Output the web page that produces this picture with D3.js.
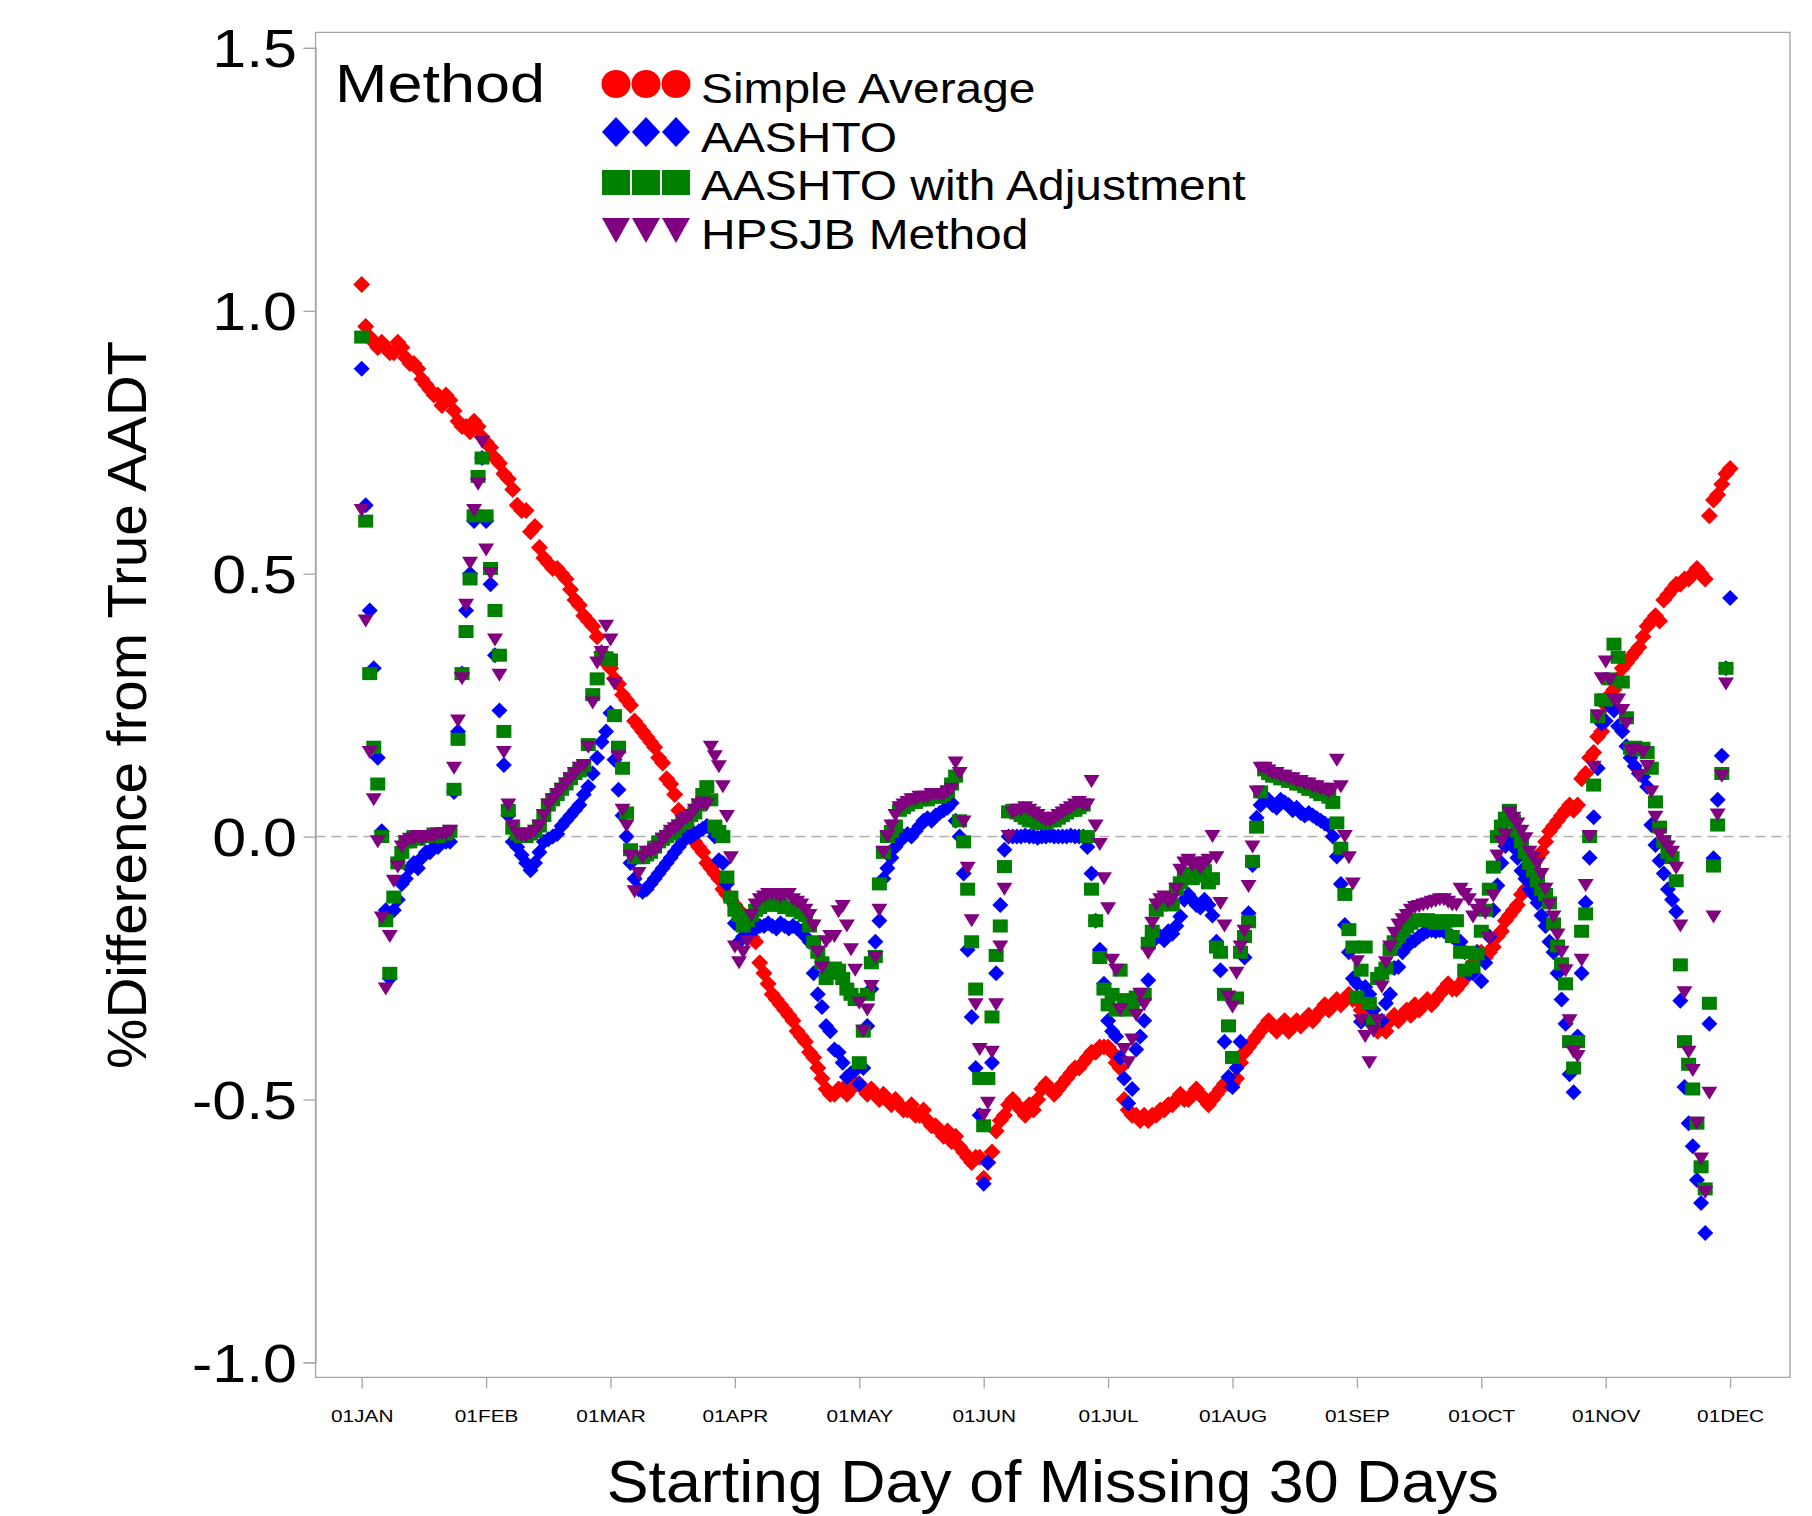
<!DOCTYPE html>
<html>
<head>
<meta charset="utf-8">
<script src="https://d3js.org/d3.v7.min.js"></script>
<style>
  body { margin: 0; background: #ffffff; }
  text { font-family: "Liberation Sans", Arial, sans-serif; fill: #000; }
</style>
</head>
<body>
<div id="chart"></div>
<script>
// x axis: day of year (0 = 01JAN), ticks at the first of each month
var monthStartDays = [0, 31, 59, 90, 120, 151, 181, 212, 243, 273, 304, 334];
var monthLabels = ["01JAN", "01FEB", "01MAR", "01APR", "01MAY", "01JUN",
                   "01JUL", "01AUG", "01SEP", "01OCT", "01NOV", "01DEC"];
var yTicks = [-1.0, -0.5, 0.0, 0.5, 1.0, 1.5];

var methodNames = ["Simple Average", "AASHTO", "AASHTO with Adjustment", "HPSJB Method"];

// %Difference from True AADT, one value per starting day
var simpleAverage = [
  1.05, 0.97, 0.95, 0.94, 0.93, 0.94, 0.93, 0.92, 0.92, 0.94,
  0.93, 0.91, 0.90, 0.90, 0.89, 0.87, 0.86, 0.85, 0.84, 0.84,
  0.82, 0.84, 0.83, 0.81, 0.79, 0.78, 0.78, 0.77, 0.79, 0.78,
  0.76, 0.75, 0.74, 0.72, 0.71, 0.69, 0.68, 0.66, 0.63, 0.62,
  0.62, 0.58, 0.59, 0.55, 0.53, 0.52, 0.51, 0.51, 0.50, 0.49,
  0.47, 0.45, 0.44, 0.42, 0.41, 0.40, 0.38, 0.35, 0.33, 0.32,
  0.30, 0.29, 0.27, 0.26, 0.25, 0.22, 0.21, 0.20, 0.19, 0.18,
  0.17, 0.15, 0.14, 0.11, 0.10, 0.08, 0.05, 0.04, 0.02, 0.00,
  -0.01, -0.02, -0.03, -0.05, -0.06, -0.07, -0.08, -0.10, -0.11, -0.12,
  -0.13, -0.14, -0.15, -0.17, -0.19, -0.20, -0.24, -0.26, -0.28, -0.30,
  -0.31, -0.32, -0.33, -0.34, -0.35, -0.37, -0.38, -0.39, -0.41, -0.42,
  -0.44, -0.46, -0.48, -0.49, -0.49, -0.48, -0.48, -0.49, -0.48, -0.47,
  -0.47, -0.48, -0.49, -0.48, -0.49, -0.50, -0.49, -0.50, -0.51, -0.50,
  -0.51, -0.52, -0.52, -0.51, -0.53, -0.53, -0.52, -0.54, -0.55, -0.55,
  -0.56, -0.57, -0.56, -0.58, -0.57, -0.59, -0.60, -0.61, -0.62, -0.61,
  -0.61, -0.65, -0.62, -0.60, -0.56, -0.54, -0.53, -0.51, -0.50, -0.51,
  -0.52, -0.53, -0.51, -0.52, -0.50, -0.48, -0.47, -0.48, -0.49, -0.48,
  -0.47, -0.46, -0.45, -0.44, -0.44, -0.43, -0.42, -0.41, -0.41, -0.40,
  -0.40, -0.40, -0.41, -0.43, -0.44, -0.50, -0.52, -0.53, -0.53, -0.54,
  -0.53, -0.54, -0.53, -0.53, -0.52, -0.52, -0.51, -0.51, -0.50, -0.49,
  -0.50, -0.50, -0.49, -0.48, -0.49, -0.50, -0.51, -0.50, -0.49, -0.48,
  -0.47, -0.47, -0.47, -0.46, -0.43, -0.41, -0.40, -0.39, -0.38, -0.37,
  -0.36, -0.35, -0.36, -0.37, -0.36, -0.35, -0.37, -0.36, -0.35, -0.36,
  -0.35, -0.34, -0.35, -0.34, -0.33, -0.32, -0.33, -0.32, -0.31, -0.32,
  -0.31, -0.30, -0.31, -0.31, -0.33, -0.34, -0.35, -0.36, -0.37, -0.36,
  -0.37, -0.35, -0.34, -0.35, -0.34, -0.33, -0.34, -0.32, -0.33, -0.32,
  -0.31, -0.32, -0.31, -0.30, -0.29, -0.28, -0.29, -0.29, -0.28, -0.27,
  -0.26, -0.24, -0.22, -0.22, -0.23, -0.22, -0.21, -0.19, -0.18, -0.16,
  -0.15, -0.14, -0.13, -0.11, -0.10, -0.08, -0.06, -0.04, -0.03, -0.01,
  0.01, 0.02, 0.03, 0.04, 0.05, 0.06, 0.05, 0.06, 0.11, 0.12,
  0.15, 0.16, 0.19, 0.20, 0.25, 0.27, 0.28, 0.30, 0.32, 0.33,
  0.34, 0.35, 0.36, 0.38, 0.40, 0.41, 0.42, 0.41, 0.45, 0.46,
  0.47, 0.48, 0.48, 0.49, 0.49, 0.50, 0.51, 0.50, 0.49, 0.61,
  0.64, 0.65, 0.67, 0.69, 0.70
];

var aashto = [
  0.89, 0.63, 0.43, 0.32, 0.15, 0.01, -0.14, -0.27, -0.14, -0.12,
  -0.09, -0.08, -0.06, -0.05, -0.06, -0.04, -0.03, -0.03, -0.02, -0.02,
  -0.01, -0.01, -0.01, 0.085, 0.20, 0.31, 0.43, 0.50, 0.60, 0.68,
  0.72, 0.60, 0.48, 0.345, 0.24, 0.136, 0.04, -0.01, -0.02, -0.035,
  -0.05, -0.064, -0.05, -0.03, -0.01, -0.005, 0.0, 0.005, 0.02, 0.03,
  0.04, 0.05, 0.06, 0.08, 0.095, 0.12, 0.15, 0.18, 0.20, 0.235,
  0.146, 0.089, 0.04, 0.0, -0.05, -0.08, -0.10, -0.105, -0.10, -0.09,
  -0.08, -0.07, -0.06, -0.05, -0.04, -0.03, -0.02, -0.01, 0.0, 0.0,
  0.005, 0.01, 0.015, 0.02, 0.015, 0.0, -0.045, -0.05, -0.09, -0.12,
  -0.165, -0.2, -0.19, -0.185, -0.18, -0.175, -0.17, -0.17, -0.165, -0.17,
  -0.175, -0.165, -0.17, -0.175, -0.17, -0.175, -0.18, -0.19, -0.2, -0.26,
  -0.3, -0.324, -0.36, -0.37, -0.405, -0.41, -0.43, -0.457, -0.45, -0.445,
  -0.47, -0.44, -0.36, -0.29, -0.2, -0.16, -0.08, -0.06, -0.04, -0.02,
  -0.01, 0.0, 0.005, 0.0, 0.01, 0.02, 0.03, 0.035, 0.03, 0.04,
  0.045, 0.05, 0.055, 0.064, 0.03, 0.0, -0.07, -0.215, -0.343, -0.44,
  -0.53, -0.66, -0.62, -0.43, -0.26, -0.13, -0.025, 0.0, 0.0, 0.0,
  0.0, 0.002, 0.0, 0.0, -0.002, 0.0, 0.0, 0.002, 0.0, 0.0,
  0.0, 0.0, 0.002, 0.0, 0.0, 0.0, -0.02, -0.07, -0.16, -0.215,
  -0.28, -0.35, -0.37, -0.38, -0.42, -0.46, -0.507, -0.48, -0.405, -0.38,
  -0.35, -0.273, -0.2, -0.185, -0.19, -0.197, -0.18, -0.185, -0.17, -0.152,
  -0.12, -0.11, -0.12, -0.13, -0.135, -0.12, -0.13, -0.15, -0.2, -0.254,
  -0.39, -0.457, -0.476, -0.44, -0.39, -0.23, -0.146, -0.054, 0.036, 0.06,
  0.075, 0.07, 0.06, 0.055, 0.07, 0.065, 0.06, 0.05, 0.055, 0.045,
  0.04, 0.045, 0.04, 0.035, 0.03, 0.025, 0.02, 0.0, -0.038, -0.09,
  -0.168, -0.22, -0.27, -0.28, -0.352, -0.286, -0.3, -0.33, -0.35, -0.35,
  -0.317, -0.3, -0.25, -0.248, -0.22, -0.21, -0.2, -0.197, -0.19, -0.185,
  -0.18, -0.178, -0.18, -0.178, -0.18, -0.185, -0.19, -0.197, -0.2, -0.22,
  -0.26, -0.26, -0.22, -0.275, -0.24, -0.19, -0.14, -0.093, -0.05, -0.018,
  0.0, -0.02, -0.04, -0.065, -0.08, -0.1, -0.11, -0.126, -0.15, -0.17,
  -0.2, -0.22, -0.26, -0.31, -0.356, -0.452, -0.486, -0.38, -0.26, -0.126,
  -0.04, 0.037, 0.13, 0.215, 0.22, 0.25, 0.24, 0.21, 0.2, 0.172,
  0.15, 0.134, 0.12, 0.114, 0.095, 0.022, -0.016, -0.046, -0.07, -0.1,
  -0.12, -0.143, -0.312, -0.476, -0.545, -0.589, -0.653, -0.697, -0.754, -0.356,
  -0.041, 0.07, 0.154, 0.32, 0.454
];

var aashtoAdj = [
  0.95, 0.60, 0.31, 0.17, 0.10, 0.0, -0.16, -0.26, -0.115, -0.05,
  -0.03, -0.01, -0.01, 0.0, -0.005, 0.0, 0.0, 0.0, 0.005, 0.0,
  0.005, 0.005, 0.01, 0.09, 0.185, 0.31, 0.39, 0.49, 0.61, 0.685,
  0.72, 0.61, 0.51, 0.43, 0.345, 0.20, 0.05, 0.016, 0.005, 0.0,
  0.0, 0.005, 0.01, 0.02, 0.04, 0.06, 0.07, 0.08, 0.09, 0.10,
  0.11, 0.12, 0.125, 0.135, 0.175, 0.27, 0.30, 0.34, 0.34, 0.336,
  0.23, 0.17, 0.13, 0.045, -0.025, -0.04, -0.04, -0.04, -0.035, -0.03,
  -0.02, -0.01, -0.005, 0.0, 0.005, 0.01, 0.02, 0.025, 0.03, 0.04,
  0.045, 0.06, 0.08, 0.095, 0.07, 0.02, 0.01, 0.0, -0.077, -0.115,
  -0.14, -0.15, -0.17, -0.16, -0.15, -0.14, -0.135, -0.13, -0.13, -0.13,
  -0.13, -0.13, -0.135, -0.135, -0.14, -0.14, -0.145, -0.15, -0.17, -0.2,
  -0.22, -0.24, -0.27, -0.26, -0.25, -0.254, -0.27, -0.29, -0.3, -0.31,
  -0.43, -0.37, -0.3, -0.24, -0.228, -0.09, -0.03, 0.0, 0.01, 0.02,
  0.05, 0.055, 0.06, 0.065, 0.065, 0.07, 0.07, 0.07, 0.075, 0.075,
  0.075, 0.08, 0.085, 0.1, 0.115, 0.03, -0.01, -0.1, -0.2, -0.29,
  -0.46, -0.55, -0.46, -0.343, -0.226, -0.17, -0.057, 0.047, 0.05, 0.045,
  0.04, 0.035, 0.03, 0.03, 0.025, 0.025, 0.025, 0.03, 0.03, 0.035,
  0.04, 0.045, 0.05, 0.05, 0.055, 0.06, 0.0, -0.1, -0.16, -0.23,
  -0.29, -0.32, -0.3, -0.33, -0.254, -0.31, -0.33, -0.32, -0.305, -0.31,
  -0.3, -0.203, -0.18, -0.14, -0.13, -0.125, -0.12, -0.13, -0.1, -0.088,
  -0.075, -0.07, -0.08, -0.07, -0.075, -0.065, -0.088, -0.08, -0.21, -0.22,
  -0.3, -0.36, -0.42, -0.307, -0.22, -0.19, -0.162, -0.047, 0.018, 0.085,
  0.127, 0.12, 0.115, 0.115, 0.11, 0.11, 0.105, 0.105, 0.1, 0.1,
  0.095, 0.09, 0.09, 0.085, 0.08, 0.08, 0.075, 0.065, 0.026, -0.022,
  -0.11, -0.177, -0.21, -0.305, -0.254, -0.21, -0.317, -0.35, -0.27, -0.26,
  -0.25, -0.215, -0.2, -0.19, -0.18, -0.172, -0.165, -0.16, -0.158, -0.16,
  -0.158, -0.16, -0.165, -0.16, -0.165, -0.16, -0.19, -0.16, -0.22, -0.254,
  -0.22, -0.248, -0.223, -0.18, -0.14, -0.1, -0.058, 0.0, 0.02, 0.035,
  0.05, 0.03, 0.01, -0.01, -0.03, -0.05, -0.065, -0.084, -0.1, -0.11,
  -0.126, -0.166, -0.208, -0.242, -0.28, -0.39, -0.44, -0.39, -0.18, -0.147,
  0.0, 0.098, 0.228, 0.26, 0.26, 0.3, 0.366, 0.341, 0.294, 0.226,
  0.168, 0.17, 0.165, 0.168, 0.16, 0.13, 0.066, 0.018, -0.01, -0.03,
  -0.04, -0.084, -0.244, -0.39, -0.433, -0.48, -0.545, -0.628, -0.67, -0.317,
  -0.056, 0.022, 0.12, 0.32
];

var hpsjb = [
  0.62, 0.41, 0.16, 0.07, -0.01, -0.155, -0.29, -0.19, -0.085, -0.058,
  -0.02, -0.01, -0.005, -0.005, 0.0, -0.005, 0.0, 0.0, 0.0, 0.005,
  0.005, 0.005, 0.01, 0.13, 0.22, 0.30, 0.44, 0.52, 0.62, 0.67,
  0.75, 0.545, 0.50, 0.374, 0.307, 0.16, 0.06, 0.02, 0.005, 0.0,
  0.0, 0.005, 0.01, 0.02, 0.04, 0.06, 0.07, 0.08, 0.09, 0.10,
  0.11, 0.12, 0.13, 0.135, 0.17, 0.254, 0.33, 0.35, 0.40, 0.374,
  0.29, 0.152, 0.05, 0.02, -0.038, -0.105, -0.07, -0.04, -0.03, -0.03,
  -0.025, -0.02, -0.005, 0.0, 0.01, 0.015, 0.02, 0.03, 0.035, 0.04,
  0.05, 0.06, 0.064, 0.06, 0.17, 0.152, 0.133, 0.095, 0.038, -0.04,
  -0.21, -0.24, -0.22, -0.2, -0.15, -0.13, -0.12, -0.115, -0.11, -0.11,
  -0.11, -0.115, -0.11, -0.11, -0.12, -0.125, -0.13, -0.14, -0.15, -0.17,
  -0.22, -0.25, -0.2, -0.19, -0.19, -0.143, -0.133, -0.17, -0.215, -0.254,
  -0.317, -0.37, -0.33, -0.285, -0.23, -0.14, -0.03, 0.0, 0.02, 0.04,
  0.055, 0.06, 0.065, 0.07, 0.07, 0.075, 0.075, 0.075, 0.08, 0.08,
  0.08, 0.08, 0.085, 0.09, 0.14, 0.12, 0.028, -0.06, -0.16, -0.32,
  -0.405, -0.53, -0.507, -0.41, -0.32, -0.21, -0.1, 0.0, 0.045, 0.05,
  0.05, 0.055, 0.05, 0.045, 0.04, 0.035, 0.03, 0.03, 0.035, 0.04,
  0.045, 0.05, 0.055, 0.06, 0.065, 0.06, 0.06, 0.105, 0.02, -0.015,
  -0.08, -0.137, -0.235, -0.254, -0.33, -0.405, -0.43, -0.387, -0.34, -0.3,
  -0.32, -0.222, -0.165, -0.13, -0.12, -0.115, -0.125, -0.12, -0.1, -0.064,
  -0.05, -0.045, -0.055, -0.05, -0.06, -0.05, -0.045, 0.0, -0.04, -0.127,
  -0.17, -0.305, -0.324, -0.26, -0.21, -0.18, -0.095, -0.02, 0.085, 0.13,
  0.13, 0.125, 0.12, 0.12, 0.115, 0.115, 0.11, 0.11, 0.105, 0.105,
  0.1, 0.1, 0.095, 0.095, 0.09, 0.09, 0.085, 0.09, 0.145, 0.095,
  0.0, -0.04, -0.09, -0.238, -0.35, -0.38, -0.43, -0.37, -0.35, -0.286,
  -0.24, -0.21, -0.184, -0.168, -0.158, -0.15, -0.14, -0.135, -0.133, -0.13,
  -0.128, -0.125, -0.123, -0.12, -0.12, -0.125, -0.13, -0.13, -0.1, -0.11,
  -0.12, -0.153, -0.14, -0.13, -0.146, -0.194, -0.113, -0.037, -0.01, 0.003,
  0.045, 0.035, 0.024, 0.01, -0.004, -0.03, -0.04, -0.052, -0.072, -0.1,
  -0.13, -0.153, -0.187, -0.22, -0.255, -0.35, -0.41, -0.418, -0.235, -0.093,
  0.0, 0.132, 0.23, 0.30, 0.332, 0.298, 0.26, 0.26, 0.24, 0.215,
  0.163, 0.165, 0.115, 0.16, 0.134, 0.085, 0.037, 0.003, -0.01, -0.02,
  -0.03, -0.06, -0.17, -0.297, -0.41, -0.445, -0.545, -0.613, -0.677, -0.488,
  -0.153, 0.041, 0.115, 0.29
];

// SVG area and plot frame
var svgWidth = 1812;
var svgHeight = 1516;
var frame = { left: 315.5, right: 1790, top: 32.4, bottom: 1377.4 };
var textStretch = 1.15;   // the reference lettering is a bit wider than Arial
var axisGrey = "#a4a4a4";

var svg = d3.select("#chart")
  .append("svg")
  .attr("width", svgWidth)
  .attr("height", svgHeight);

// month ticks are evenly spaced in the reference, so map day -> x piecewise
var xScale = d3.scaleLinear()
  .domain(monthStartDays)
  .range(monthStartDays.map(function(d, i) { return 361.7 + i * 124.4; }));
var yScale = d3.scaleLinear().domain([-1, 1.5]).range([1362.4, 47.9]);

function stretch(sel, k) {
  sel.each(function() {
    var w = this.getComputedTextLength();
    d3.select(this).attr("textLength", w * k).attr("lengthAdjust", "spacingAndGlyphs");
  });
}

// frame
svg.append("rect")
  .attr("x", frame.left)
  .attr("y", frame.top)
  .attr("width", frame.right - frame.left)
  .attr("height", frame.bottom - frame.top)
  .attr("fill", "none")
  .attr("stroke", axisGrey)
  .attr("stroke-width", 1.3);

// zero reference line
svg.append("line")
  .attr("x1", frame.left)
  .attr("x2", frame.right)
  .attr("y1", yScale(0))
  .attr("y2", yScale(0))
  .attr("stroke", "#b0b0b0")
  .attr("stroke-width", 1.5)
  .attr("stroke-dasharray", "10,6");

// y axis
var leftAxis = d3.axisLeft(yScale)
  .tickValues(yTicks)
  .tickSize(12)
  .tickPadding(6.5)
  .tickFormat(function(d) { return d.toFixed(1); });

var yAxis = svg.append("g")
  .attr("transform", "translate(" + frame.left + ",0)")
  .call(leftAxis);
yAxis.select(".domain").attr("stroke", axisGrey).attr("stroke-width", 1.3);
yAxis.selectAll(".tick line").attr("stroke", axisGrey).attr("stroke-width", 1.3);
yAxis.selectAll(".tick text")
  .attr("font-family", "Liberation Sans, Arial, sans-serif")
  .style("font-size", "53px")
  .attr("dy", "0.36em")
  .call(stretch, textStretch);

// x axis
var bottomAxis = d3.axisBottom(xScale)
  .tickValues(monthStartDays)
  .tickSize(11)
  .tickPadding(22)
  .tickFormat(function(d, i) { return monthLabels[i]; });

var xAxis = svg.append("g")
  .attr("transform", "translate(0," + frame.bottom + ")")
  .call(bottomAxis);
xAxis.select(".domain").remove();
xAxis.selectAll(".tick line").attr("stroke", axisGrey).attr("stroke-width", 1.3);
xAxis.selectAll(".tick text")
  .attr("font-family", "Liberation Sans, Arial, sans-serif")
  .style("font-size", "16px")
  .call(stretch, 1.3);

// axis titles
svg.append("text")
  .attr("transform", "translate(146," + ((frame.top + frame.bottom) / 2) + ") rotate(-90)")
  .attr("text-anchor", "middle")
  .style("font-size", "55px")
  .attr("textLength", 728)
  .attr("lengthAdjust", "spacingAndGlyphs")
  .text("%Difference from True AADT");

svg.append("text")
  .attr("x", (frame.left + frame.right) / 2)
  .attr("y", 1502)
  .attr("text-anchor", "middle")
  .style("font-size", "60px")
  .attr("textLength", 892)
  .attr("lengthAdjust", "spacingAndGlyphs")
  .text("Starting Day of Missing 30 Days");

// markers
var diamondRed = "M0,-8.5L8.5,0L0,8.5L-8.5,0Z";
var diamondBlue = "M0,-8L8,0L0,8L-8,0Z";
var triangleDown = "M-8,-6.5L8,-6.5L0,6.5Z";

function points(values) {
  return values.map(function(v, i) { return { day: i, value: v }; })
    .filter(function(d) { return d.value !== null; });
}

var plot = svg.append("g");

plot.append("g").selectAll("path")
  .data(points(simpleAverage))
  .enter()
  .append("path")
  .attr("d", diamondRed)
  .attr("fill", "#ff0000")
  .attr("transform", function(d) { return "translate(" + xScale(d.day) + "," + yScale(d.value) + ")"; });

plot.append("g").selectAll("path")
  .data(points(aashto))
  .enter()
  .append("path")
  .attr("d", diamondBlue)
  .attr("fill", "#0000ff")
  .attr("transform", function(d) { return "translate(" + xScale(d.day) + "," + yScale(d.value) + ")"; });

plot.append("g").selectAll("rect")
  .data(points(aashtoAdj))
  .enter()
  .append("rect")
  .attr("x", function(d) { return xScale(d.day) - 7.5; })
  .attr("y", function(d) { return yScale(d.value) - 6.5; })
  .attr("width", 15)
  .attr("height", 13)
  .attr("fill", "#008000");

plot.append("g").selectAll("path")
  .data(points(hpsjb))
  .enter()
  .append("path")
  .attr("d", triangleDown)
  .attr("fill", "#800080")
  .attr("transform", function(d) { return "translate(" + xScale(d.day) + "," + yScale(d.value) + ")"; });

// legend
var legend = svg.append("g");

legend.append("text")
  .attr("x", 335)
  .attr("y", 102)
  .style("font-size", "54px")
  .attr("textLength", 210)
  .attr("lengthAdjust", "spacingAndGlyphs")
  .text("Method");

var legendRows = [84, 132, 182.5, 230.5];
var legendBaselines = [103, 152, 200, 248.5];
var legendColors = ["#ff0000", "#0000ff", "#008000", "#800080"];
var legendSlots = [616, 646, 676];

legendSlots.forEach(function(cx) {
  legend.append("ellipse")
    .attr("cx", cx).attr("cy", legendRows[0])
    .attr("rx", 14.5).attr("ry", 14)
    .attr("fill", legendColors[0]);
  legend.append("path")
    .attr("d", "M0,-15L14,0L0,15L-14,0Z")
    .attr("transform", "translate(" + cx + "," + legendRows[1] + ")")
    .attr("fill", legendColors[1]);
  legend.append("rect")
    .attr("x", cx - 14).attr("y", legendRows[2] - 12.5)
    .attr("width", 28).attr("height", 25)
    .attr("fill", legendColors[2]);
  legend.append("path")
    .attr("d", "M-14,-12.5L14,-12.5L0,12.5Z")
    .attr("transform", "translate(" + cx + "," + legendRows[3] + ")")
    .attr("fill", legendColors[3]);
});

legend.selectAll("text.entry")
  .data(methodNames)
  .enter()
  .append("text")
  .attr("class", "entry")
  .attr("x", 701)
  .attr("y", function(d, i) { return legendBaselines[i]; })
  .style("font-size", "42px")
  .text(function(d) { return d; })
  .call(stretch, 1.14);
</script>
</body>
</html>
